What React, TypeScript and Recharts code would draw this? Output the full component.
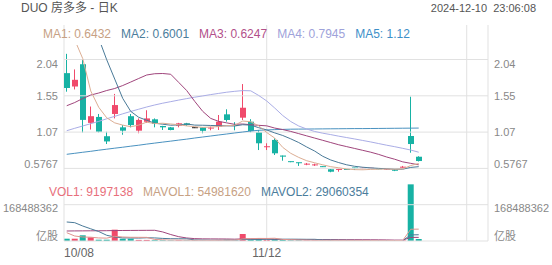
import React from 'react';
import { ComposedChart, Bar, Line, XAxis, YAxis, ReferenceLine, Cell } from 'recharts';

// ---------- data ----------
const dates = ['10/08','10/09','10/10','10/11','10/14','10/15','10/16','10/17','10/18','10/21','10/22','10/23','10/24','10/25','10/28','10/29','10/30','10/31','11/01','11/04','11/05','11/06','11/07','11/08','11/11','11/12','11/13','11/14','11/15','11/18','11/19','11/20','11/21','11/22','11/25','11/26','11/27','11/29','12/02','12/03','12/04','12/05','12/06','12/09','12/10'];

const opens = [1.86,1.68,1.98,1.19,1.27,1.01,1.31,1.13,1.28,1.085,1.205,1.238,1.148,1.13,1.152,1.184,1.125,1.128,1.115,1.138,1.305,1.16,1.26,1.206,1.063,0.865,0.96,0.75,0.67,0.656,0.63,0.62,0.602,0.565,0.56,0.566,0.585,0.575,0.577,0.575,0.565,0.562,0.585,1.013,0.734];
const closes = [1.66,1.77,1.23,1.28,1.07,0.94,1.43,1.085,1.16,1.23,1.25,1.175,1.13,1.094,1.184,1.161,1.125,1.083,1.125,1.206,1.229,1.15,1.394,1.08,0.915,0.872,0.78,0.735,0.665,0.65,0.638,0.628,0.598,0.532,0.566,0.558,0.58,0.58,0.58,0.568,0.57,0.545,0.6,0.905,0.676];
const highs = [2.12,1.91,2.05,1.41,1.31,1.07,1.58,1.16,1.31,1.25,1.36,1.25,1.15,1.135,1.19,1.19,1.13,1.128,1.14,1.296,1.373,1.2,1.713,1.24,1.094,0.915,0.982,0.75,0.67,0.656,0.65,0.64,0.605,0.57,0.58,0.566,0.585,0.59,0.585,0.578,0.575,0.565,0.61,1.543,0.74];
const lows = [1.61,1.64,1.06,1.1,1.06,0.905,1.25,1.03,1.13,1.05,1.19,1.13,1.094,1.09,1.13,1.15,1.12,1.05,1.09,1.094,1.206,1.09,1.229,1.063,0.824,0.824,0.757,0.68,0.66,0.61,0.62,0.61,0.595,0.525,0.532,0.555,0.555,0.565,0.57,0.565,0.56,0.54,0.58,0.788,0.67];
const volumes = [10700000,10700000,26500000,17200000,6000000,6000000,52500000,10700000,10700000,5000000,5000000,4000000,3500000,3000000,4000000,3000000,2500000,3000000,2500000,5000000,6000000,3000000,32500000,8000000,10000000,5000000,8000000,5000000,3000000,3000000,2500000,2500000,2500000,4000000,2500000,2000000,2000000,2000000,2000000,2000000,2000000,3000000,3000000,263000000,9197138];

const ma1 = [2.55,2.31,2.056,1.62,1.4,1.258,1.19,1.16,1.137,1.16,1.2,1.18,1.185,1.175,1.165,1.149,1.139,1.129,1.134,1.14,1.152,1.157,1.215,1.205,1.15,1.06,0.985,0.86,0.78,0.725,0.68,0.652,0.625,0.6,0.585,0.568,0.56,0.558,0.563,0.566,0.568,0.565,0.57,0.615,0.6432];
const ma2 = [null,null,null,null,2.33,2.04,1.78,1.52,1.345,1.265,1.225,1.185,1.172,1.158,1.163,1.175,1.16,1.158,1.155,1.152,1.15,1.148,1.165,1.16,1.125,1.095,1.055,1.02,0.975,0.925,0.865,0.81,0.74,0.69,0.655,0.625,0.605,0.592,0.584,0.577,0.571,0.565,0.566,0.59,0.6001];
const ma3 = [1.421,1.464,1.518,1.565,1.592,1.626,1.653,1.693,1.74,1.788,1.835,1.852,1.855,1.845,1.735,1.625,1.48,1.345,1.25,1.21,1.19,1.17,1.175,1.165,1.157,1.15,1.12,1.1,1.075,1.045,1.015,0.985,0.955,0.925,0.895,0.87,0.845,0.82,0.795,0.765,0.73,0.7,0.665,0.645,0.6247];
const ma4 = [1.0845,1.117,1.148,1.179,1.21,1.245,1.278,1.312,1.344,1.374,1.404,1.431,1.455,1.476,1.497,1.517,1.536,1.553,1.571,1.587,1.603,1.615,1.625,1.622,1.559,1.485,1.39,1.289,1.208,1.148,1.107,1.074,1.051,1.032,1.011,0.992,0.973,0.953,0.933,0.911,0.889,0.869,0.847,0.824,0.7945];
const ma5 = [0.7666,0.78,0.794,0.807,0.822,0.8355,0.849,0.862,0.876,0.889,0.904,0.9174,0.931,0.944,0.958,0.971,0.986,0.9995,1.013,1.027,1.04,1.054,1.067,1.08,1.09,1.095,1.099,1.102,1.105,1.106,1.107,1.108,1.109,1.11,1.111,1.112,1.113,1.113,1.114,1.115,1.116,1.117,1.118,1.119,1.12];

const mavol1 = [38500000,23200000,18600000,17600000,14200000,13300000,21600000,18500000,17200000,17000000,16800000,7100000,5600000,4100000,3900000,3500000,3200000,3100000,3000000,3200000,3800000,3900000,9800000,10900000,11900000,11700000,12700000,7200000,6200000,4800000,4300000,3200000,2700000,2900000,2800000,2700000,2600000,2500000,2100000,2000000,2000000,2200000,2400000,54600000,54981620];
const mavol2 = [88200000,85000000,69600000,56600000,44000000,26500000,18600000,14500000,14000000,13500000,15000000,14300000,12000000,10600000,10400000,10100000,5100000,4300000,3500000,3500000,3600000,3500000,6400000,6900000,7500000,7700000,8200000,8400000,8500000,8300000,7900000,7900000,4900000,4500000,3700000,3400000,2800000,2500000,2400000,2300000,2250000,2300000,2350000,28200000,29060354];
const mavol3 = [46400000,46800000,47000000,47300000,47500000,47800000,48500000,48800000,49000000,49300000,49500000,49700000,42000000,30000000,20000000,14000000,11000000,10000000,9700000,9500000,9300000,8500000,9800000,9600000,9800000,9800000,7500000,7000000,6500000,6300000,6100000,6000000,6400000,6500000,6300000,6000000,6000000,5800000,5600000,5400000,5000000,4200000,4000000,16700000,16800000];

const priceTicks = [0.5767, 1.0657, 1.5547, 2.0437];
const priceTickLabels = ['0.5767', '1.07', '1.55', '2.04'];
const volTicks = [0, 168488362];
const volTickLabels = ['亿股', '168488362'];
const xLabelIdx = [0, 25];
const xGridIdx = [25, 50];

const maLegend = [
  { name: 'MA1', value: '0.6432', color: '#c7a184' },
  { name: 'MA2', value: '0.6001', color: '#4b7d9c' },
  { name: 'MA3', value: '0.6247', color: '#b2508a' },
  { name: 'MA4', value: '0.7945', color: '#9ea2da' },
  { name: 'MA5', value: '1.12', color: '#3d8fc8' },
];
const volLegend = [
  { name: 'VOL1', value: '9197138', color: '#e86f7b' },
  { name: 'MAVOL1', value: '54981620', color: '#c7a184' },
  { name: 'MAVOL2', value: '29060354', color: '#4b7d9c' },
];

// ---------- style ----------
const W = 552;
const H = 265;
const FONT = "'Liberation Sans', Arial, 'Noto Sans CJK SC', sans-serif";
const RED = '#f04a6b';
const GREEN = '#17b2a4';
const FLAT = '#222';
const GRID = '#e1e1e1';
const X_DOMAIN: [number, number] = [-0.34, 52.66];
const P_DOMAIN: [number, number] = [0.42043, 2.23904];
const V_DOMAIN: [number, number] = [0, 1002570000];

const rows = dates.map((d, i) => ({
  i,
  date: d,
  open: opens[i],
  close: closes[i],
  high: highs[i],
  low: lows[i],
  range: [lows[i], highs[i]],
  vol: volumes[i],
  ma1: ma1[i],
  ma2: ma2[i],
  ma3: ma3[i],
  ma4: ma4[i],
  ma5: ma5[i],
  mavol1: mavol1[i],
  mavol2: mavol2[i],
  mavol3: mavol3[i],
}));

const colorOf = (o: number, c: number) => (c > o ? RED : c < o ? GREEN : FLAT);

const CandleShape = (props: any) => {
  const { x, y, width, height, payload } = props;
  if (x == null || y == null || !payload) return null;
  const top = Math.min(y, y + height);
  const bot = Math.max(y, y + height);
  const span = payload.high - payload.low;
  const k = span > 0 ? (bot - top) / span : 0;
  const yOf = (v: number) => top + (payload.high - v) * k;
  const yo = yOf(payload.open);
  const yc = yOf(payload.close);
  const bTop = Math.min(yo, yc);
  const bH = Math.abs(yo - yc);
  const color = colorOf(payload.open, payload.close);
  const cx = Math.floor(x + width / 2) + 0.5;
  const bx = Math.round(x);
  return (
    <g>
      <line x1={cx} x2={cx} y1={top} y2={bot} stroke={color} strokeWidth={1} />
      <rect
        x={bx}
        y={bH < 1 ? bTop + bH / 2 - 0.5 : bTop}
        width={Math.round(width)}
        height={Math.max(bH, 1)}
        fill={color}
      />
    </g>
  );
};

const PriceTick = (props: any) => {
  const { x, y, payload, textAnchor } = props;
  const idx = priceTicks.indexOf(payload.value);
  const dy = idx === priceTicks.length - 1 ? 4.5 : idx === 0 ? -4 : 0;
  return (
    <text x={x} y={y + dy} textAnchor={textAnchor} dominantBaseline="central" fontSize={11} fill="#888" fontFamily={FONT}>
      {priceTickLabels[idx]}
    </text>
  );
};

const VolTick = (props: any) => {
  const { x, y, payload, textAnchor } = props;
  const idx = volTicks.indexOf(payload.value);
  const dy = idx === 0 ? -5.5 : 3.3;
  return (
    <text x={x} y={y + dy} textAnchor={textAnchor} dominantBaseline="central" fontSize={11} fill="#888" fontFamily={FONT}>
      {volTickLabels[idx]}
    </text>
  );
};

const XTick = (props: any) => {
  const { x, y, payload } = props;
  const first = payload.value === xLabelIdx[0];
  return (
    <text x={first ? x - 2.7 : x} y={y + 11.5} textAnchor={first ? 'start' : 'middle'} dominantBaseline="central" fontSize={12} fill="#666" fontFamily={FONT}>
      {dates[payload.value]}
    </text>
  );
};

const lineProps = { dot: false, activeDot: false, isAnimationActive: false, strokeWidth: 1, connectNulls: false } as const;

export default function App() {
  return (
    <div style={{ position: 'absolute', left: 0, top: 0, width: W, height: H, background: '#fff', overflow: 'hidden', fontFamily: FONT }}>
      {/* frame + volume panel */}
      <div style={{ position: 'absolute', left: 0, top: 0 }}>
        <ComposedChart width={W} height={H} data={rows} margin={{ top: 25, right: 0, bottom: 0, left: 0 }}>
          <XAxis
            dataKey="i"
            type="number"
            domain={X_DOMAIN}
            allowDataOverflow
            ticks={xLabelIdx}
            interval={0}
            height={24}
            tickSize={0}
            tickMargin={0}
            tickLine={false}
            axisLine={{ stroke: GRID }}
            tick={<XTick />}
          />
          <YAxis yAxisId="vl" orientation="left" width={64} domain={V_DOMAIN} allowDataOverflow ticks={volTicks} interval={0} tickSize={0} tickMargin={6} tickLine={false} axisLine={{ stroke: GRID }} tick={<VolTick />} />
          <YAxis yAxisId="vr" orientation="right" width={64} domain={V_DOMAIN} allowDataOverflow ticks={volTicks} interval={0} tickSize={0} tickMargin={6} tickLine={false} axisLine={{ stroke: GRID }} tick={<VolTick />} />
          <ReferenceLine yAxisId="vl" y={volTicks[1]} stroke={GRID} />
          {xGridIdx.map((g) => (
            <ReferenceLine key={g} yAxisId="vl" x={g} stroke={GRID} />
          ))}
          <Bar yAxisId="vl" dataKey="vol" barSize={6} isAnimationActive={false}>
            {rows.map((r) => (
              <Cell key={r.i} fill={colorOf(r.open, r.close)} />
            ))}
          </Bar>
          <Line yAxisId="vl" dataKey="mavol3" stroke="#a0457c" {...lineProps} />
          <Line yAxisId="vl" dataKey="mavol2" stroke="#4a7a98" {...lineProps} />
          <Line yAxisId="vl" dataKey="mavol1" stroke="#e0948e" {...lineProps} />
        </ComposedChart>
      </div>

      {/* price panel */}
      <div style={{ position: 'absolute', left: 0, top: 0 }}>
        <ComposedChart width={W} height={H} data={rows} margin={{ top: 45, right: 0, bottom: 85, left: 0 }}>
          <XAxis dataKey="i" type="number" domain={X_DOMAIN} allowDataOverflow hide height={0} />
          <YAxis yAxisId="pl" orientation="left" width={64} domain={P_DOMAIN} allowDataOverflow ticks={priceTicks} interval={0} tickSize={0} tickMargin={6} tickLine={false} axisLine={false} tick={<PriceTick />} />
          <YAxis yAxisId="pr" orientation="right" width={64} domain={P_DOMAIN} allowDataOverflow ticks={priceTicks} interval={0} tickSize={0} tickMargin={6} tickLine={false} axisLine={false} tick={<PriceTick />} />
          {priceTicks.map((t) => (
            <ReferenceLine key={t} yAxisId="pl" y={t} stroke={GRID} />
          ))}
          <Line yAxisId="pl" dataKey="ma5" stroke="#4a92c0" {...lineProps} />
          <Line yAxisId="pl" dataKey="ma4" stroke="#aaade6" {...lineProps} />
          <Line yAxisId="pl" dataKey="ma3" stroke="#a0457c" {...lineProps} />
          <Line yAxisId="pl" dataKey="ma2" stroke="#4a7a98" {...lineProps} />
          <Line yAxisId="pl" dataKey="ma1" stroke="#dcae94" {...lineProps} />
          <Bar yAxisId="pl" dataKey="range" barSize={6} shape={CandleShape} isAnimationActive={false} />
        </ComposedChart>
      </div>

      {/* header texts */}
      <div style={{ position: 'absolute', left: 21, top: 0.5, fontSize: 12, lineHeight: '14px', color: '#555', whiteSpace: 'pre' }}>
        DUO 房多多 - 日K
      </div>
      <div style={{ position: 'absolute', right: 16, top: 1, fontSize: 11, lineHeight: '14px', color: '#555', whiteSpace: 'pre' }}>
        2024-12-10  23:06:08
      </div>
      <div style={{ position: 'absolute', left: 43, top: 27, fontSize: 12, lineHeight: '14px', display: 'flex', gap: 10, whiteSpace: 'pre' }}>
        {maLegend.map((m) => (
          <span key={m.name} style={{ color: m.color }}>{`${m.name}: ${m.value}`}</span>
        ))}
      </div>
      <div style={{ position: 'absolute', left: 49, top: 184.5, fontSize: 12, lineHeight: '14px', display: 'flex', gap: 10, whiteSpace: 'pre' }}>
        {volLegend.map((m) => (
          <span key={m.name} style={{ color: m.color }}>{`${m.name}: ${m.value}`}</span>
        ))}
      </div>
    </div>
  );
}
